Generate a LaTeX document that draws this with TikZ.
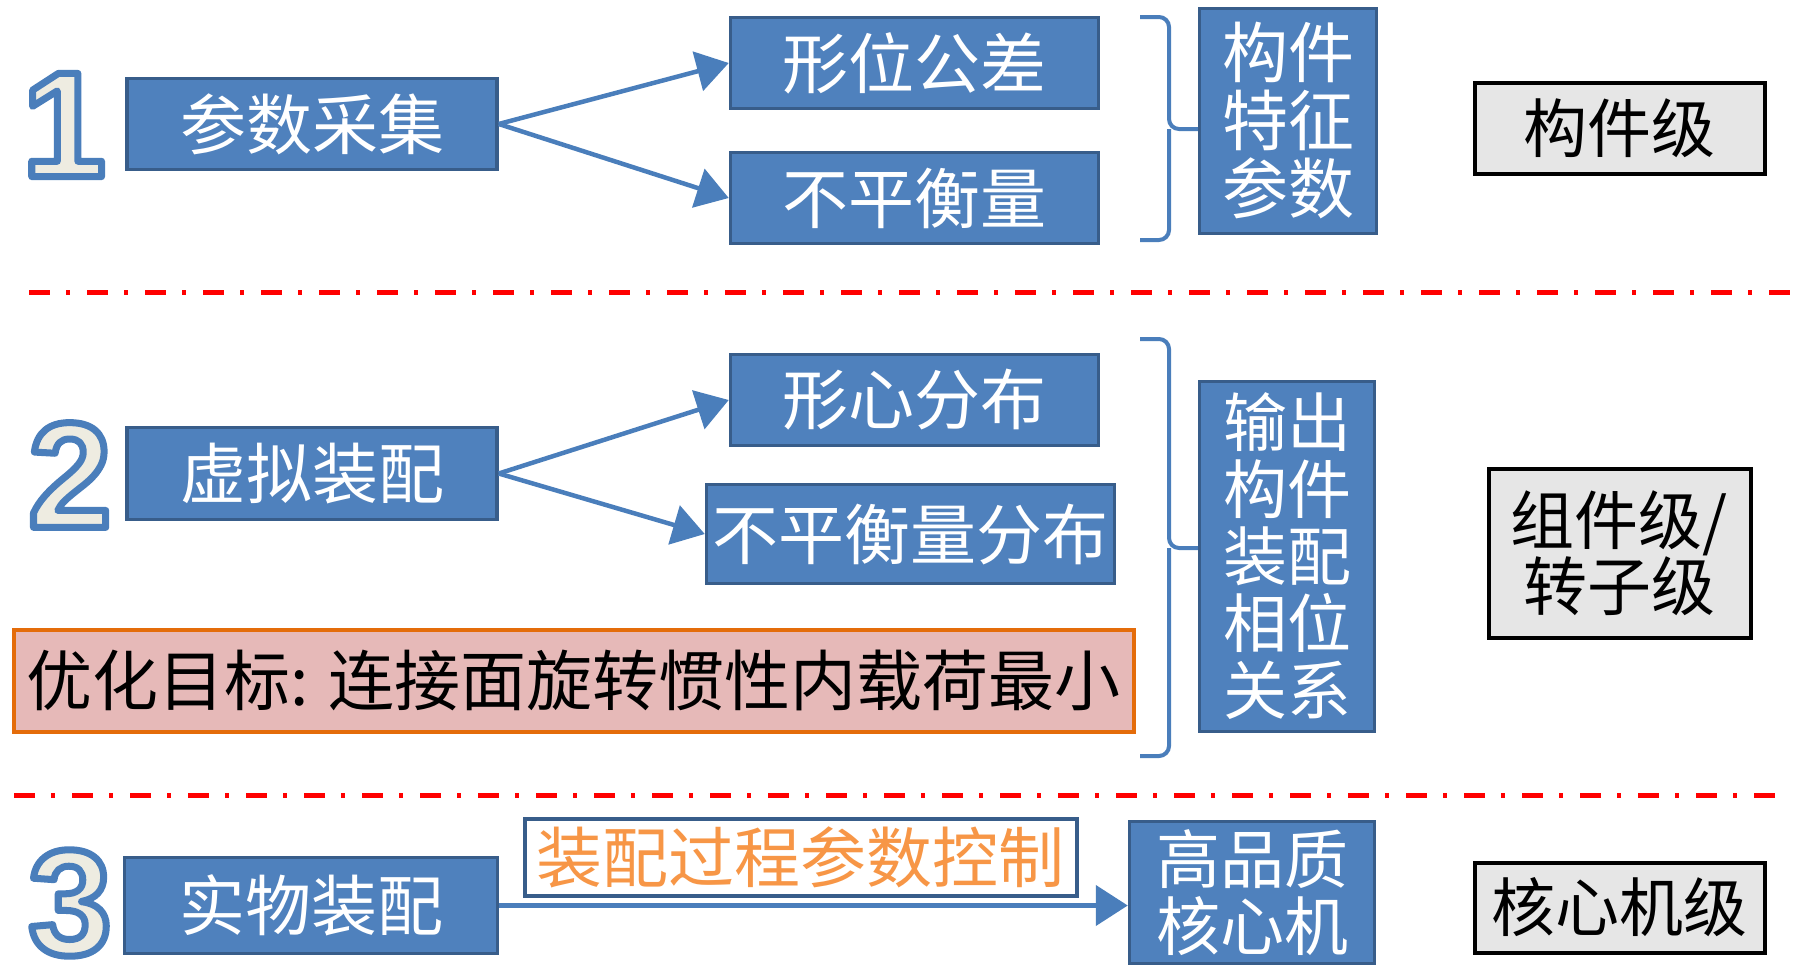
\documentclass[tikz,border=0pt]{standalone}
\usepackage{fontspec}
\setmainfont{Liberation Sans}
\newfontfamily\cjk{Noto Sans CJK SC}
\usetikzlibrary{arrows.meta}
\definecolor{boxblue}{HTML}{4F81BD}
\definecolor{boxedge}{HTML}{385D8A}
\definecolor{linkblue}{HTML}{4A7EBB}
\definecolor{goalfill}{HTML}{E6B9B8}
\definecolor{goaledge}{HTML}{E46C0A}
\definecolor{ctrltext}{HTML}{F79646}
\definecolor{levelfill}{HTML}{E6E6E6}
\definecolor{digitfill}{HTML}{EEECE1}
% outlined digit: fill in the text colour, stroke in blue
\newcommand{\outlined}[1]{\special{pdf:literal direct 0.29 0.494 0.733 RG 7 w 1 j 2 Tr}#1\special{pdf:literal direct 0 Tr}}
\begin{document}
\begin{tikzpicture}[x=1pt,y=-1pt]
  \tikzstyle{every node}=[inner sep=0pt, align=center]
  \tikzstyle{stage}=[draw=boxedge, fill=boxblue, line width=3.5pt, text=white, font=\cjk\fontsize{66}{68}\selectfont]
  \tikzstyle{level}=[draw=black, fill=levelfill, line width=4pt, font=\cjk\fontsize{64}{65}\selectfont]
  \tikzstyle{numeral}=[font=\fontsize{150}{150}\selectfont\bfseries, text=digitfill]
  \tikzstyle{link}=[draw=linkblue, line width=4.5pt, -{Triangle[length=32pt,width=40pt]}]
  \tikzstyle{brc}=[draw=linkblue, line width=4pt, rounded corners=10pt]
  \tikzstyle{sep}=[draw=red, line width=5pt, dash pattern=on 21pt off 16pt on 4pt off 17pt]
  \useasboundingbox (0,0) rectangle (1819,969);

  % stage numbers
  \node[numeral] (n1) at (64,125) {\outlined{1}};
  \node[numeral] (n2) at (70,475) {\outlined{2}};
  \node[numeral] (n3) at (70,903) {\outlined{3}};

  % level 1
  \node[stage, minimum width=370pt, minimum height=91pt] (collect) at (312,124) {参数采集};
  \node[stage, minimum width=368pt, minimum height=91pt] (form) at (914.5,63) {形位公差};
  \node[stage, minimum width=368pt, minimum height=91pt] (unbal) at (914.5,198) {不平衡量};
  \node[stage, minimum width=177pt, minimum height=225pt] (featr) at (1288,121) {构件\\特征\\参数};
  \node[level, minimum width=290pt, minimum height=91pt] (lvlA) at (1619.5,128) {构件级};

  \draw[link] (collect.east) -- (form.west);
  \draw[link] (collect.east) -- (unbal.west);
  \coordinate (b1t) at (1140,17);
  \coordinate (b1b) at (1140,240);
  \coordinate (b1m) at (1169,129);
  \draw[brc] (b1t) -| (b1m) -- (b1m -| featr.west);
  \draw[brc] (b1b) -| (b1m);

  \draw[sep] (29,292) -- (1798,292);

  % level 2
  \node[stage, minimum width=370pt, minimum height=92pt] (virt) at (312,473.5) {虚拟装配};
  \node[stage, minimum width=368pt, minimum height=91pt] (centr) at (914.5,400) {形心分布};
  \node[stage, minimum width=408pt, minimum height=99pt] (unbdist) at (910.5,534) {不平衡量分布};
  \node[draw=goaledge, fill=goalfill, line width=4pt, font=\cjk\fontsize{66}{68}\selectfont,
        minimum width=1120pt, minimum height=102pt] (goal) at (573.5,680.5) {优化目标: 连接面旋转惯性内载荷最小};
  \node[stage, minimum width=175pt, minimum height=350pt, font=\cjk\fontsize{64}{67}\selectfont] (phase) at (1287,556.5) {输出\\构件\\装配\\相位\\关系};
  \node[level, minimum width=262pt, minimum height=169pt] (lvlB) at (1619.5,553) {组件级/\\转子级};

  \draw[link] (virt.east) -- (centr.west);
  \draw[link] (virt.east) -- (unbdist.west);
  \coordinate (b2t) at (1140,339);
  \coordinate (b2b) at (1140,756);
  \coordinate (b2m) at (1169,548);
  \draw[brc] (b2t) -| (b2m) -- (b2m -| phase.west);
  \draw[brc] (b2b) -| (b2m);

  \draw[sep] (14,795) -- (1775,795);

  % level 3
  \node[stage, minimum width=373pt, minimum height=96pt] (phys) at (311,905.5) {实物装配};
  \node[draw=boxedge, fill=white, line width=4pt, text=ctrltext, font=\cjk\fontsize{66}{68}\selectfont,
        minimum width=552pt, minimum height=77pt] (ctrl) at (800.5,857) {装配过程参数控制};
  \node[stage, minimum width=245pt, minimum height=142pt, font=\cjk\fontsize{64}{67}\selectfont] (core) at (1252,892.5) {高品质\\核心机};
  \node[level, minimum width=290pt, minimum height=90pt] (lvlC) at (1619.5,907.5) {核心机级};

  \draw[link] (phys.east) -- (phys.east -| core.west);
\end{tikzpicture}
\end{document}
